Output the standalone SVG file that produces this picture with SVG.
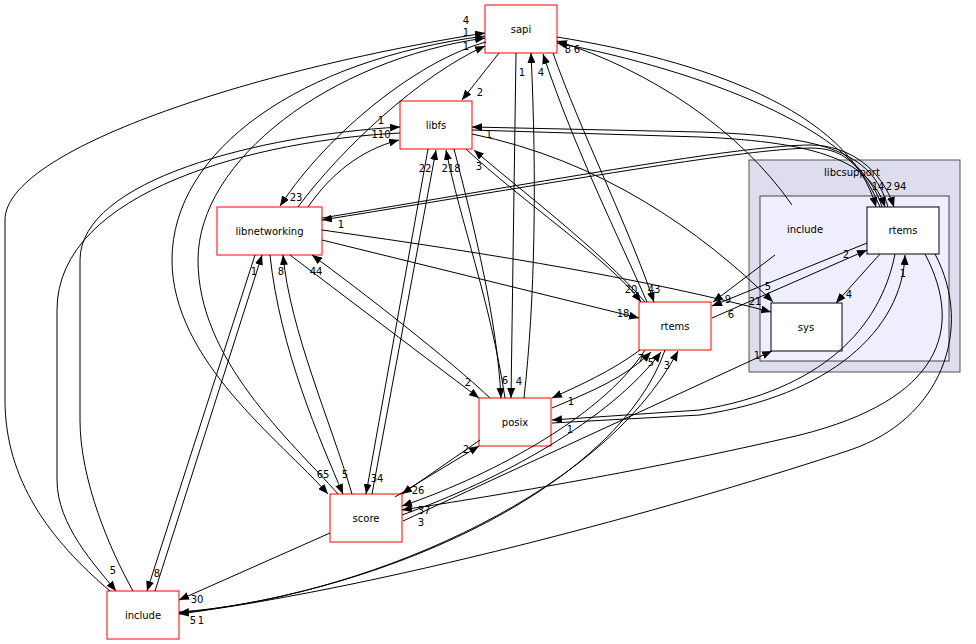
<svg xmlns="http://www.w3.org/2000/svg" width="976" height="644" viewBox="0 0 976 644">
<style>
.e{fill:none;stroke:#000;stroke-width:1;marker-end:url(#a)}
.l{font-family:"DejaVu Sans","Liberation Sans",sans-serif;font-size:10px;fill:#000;text-anchor:middle}
.n{fill:#fff;stroke:#ff0000;stroke-width:1}
.w{fill:#fff;stroke:#000;stroke-width:1}
.t{font-family:"DejaVu Sans","Liberation Sans",sans-serif;font-size:10px;fill:#000;text-anchor:middle}
</style>
<defs>
<marker id="a" markerWidth="10" markerHeight="8" refX="10" refY="4" orient="auto" markerUnits="userSpaceOnUse"><path d="M0,0 L10,4 L0,8 z" fill="#000"/></marker>
</defs>
<rect width="976" height="644" fill="#fff"/>
<g id="cluster_libcsupport">
<rect x="749" y="160" width="211" height="212" fill="#ddddee" stroke="#555"/>
<text class="t" x="852" y="176">libcsupport</text>
</g>
<g id="cluster_include">
<rect x="760" y="196" width="189" height="165" fill="#eeeeff" stroke="#444"/>
<text class="t" x="805" y="233">include</text>
</g>
<g id="node_sapi"><rect class="n" x="485" y="5" width="72" height="48"/><text class="t" x="521" y="33">sapi</text></g>
<g id="node_libfs"><rect class="n" x="400" y="101" width="72" height="48"/><text class="t" x="436" y="129">libfs</text></g>
<g id="node_libnetworking"><rect class="n" x="217" y="207" width="105" height="48"/><text class="t" x="269.5" y="235">libnetworking</text></g>
<g id="node_rtems"><rect class="n" x="639" y="302" width="72" height="48"/><text class="t" x="675" y="330">rtems</text></g>
<g id="node_posix"><rect class="n" x="479" y="398" width="72" height="48"/><text class="t" x="515" y="426">posix</text></g>
<g id="node_score"><rect class="n" x="330" y="494" width="72" height="48"/><text class="t" x="366" y="522">score</text></g>
<g id="node_include"><rect class="n" x="107" y="591" width="72" height="48"/><text class="t" x="143" y="619">include</text></g>
<g id="node_lc_rtems"><rect class="w" x="867" y="207" width="72" height="47"/><text class="t" x="903" y="234">rtems</text></g>
<g id="node_sys"><rect class="w" x="771" y="303" width="71" height="48"/><text class="t" x="806" y="331">sys</text></g>
<g id="edges">
<path class="e" d="M499,53 L462,100"/><text class="l" x="480" y="96">2</text>
<path class="e" d="M486,42 C420,60 330,130 280,206"/><text class="l" x="296" y="201">23</text>
<path class="e" d="M298,207 C340,150 420,75 485,46"/><text class="l" x="466" y="50">1</text>
<path class="e" d="M308,207 C330,175 360,150 399,140"/><text class="l" x="381" y="138">110</text>
<path class="e" d="M133,591 C110,550 80,480 80,420 L80,260 C80,180 260,135 400,127"/><text class="l" x="381" y="124">1</text>
<path class="e" d="M400,133 C260,140 57,190 57,310 L57,480 C57,525 95,565 116,591"/><text class="l" x="113" y="574">5</text>
<path class="e" d="M110,591 C50,540 5,480 5,400 L5,220 C5,150 250,70 485,33"/><text class="l" x="466" y="24">4</text>
<path class="e" d="M485,36 C300,60 172,150 172,260 C172,360 280,440 328,494"/><text class="l" x="323" y="478">65</text>
<path class="e" d="M338,494 C290,440 198,360 198,260 C198,160 330,60 485,38"/><text class="l" x="466" y="36">1</text>
<path class="e" d="M516,53 L511,398"/><text class="l" x="519" y="385">4</text>
<path class="e" d="M524,398 C535,300 537,180 531,53"/><text class="l" x="522" y="76">1</text>
<path class="e" d="M647,302 C620,240 575,150 543,54"/><text class="l" x="541" y="76">4</text>
<path class="e" d="M553,53 C580,130 630,230 654,302"/><text class="l" x="654" y="293">43</text>
<path class="e" d="M557,37 C700,60 850,110 876,207"/>
<path class="e" d="M882,207 C860,130 700,70 557,43"/><text class="l" x="577" y="53">6</text>
<path class="e" d="M792,205 C740,130 650,70 557,41"/><text class="l" x="568" y="53">8</text>
<path class="e" d="M472,130 L700,137 C820,142 870,162 885,207"/>
<path class="e" d="M888,207 C872,150 820,136 700,132 L472,127"/><text class="l" x="489" y="138">1</text>
<path class="e" d="M880,207 C860,160 840,148 810,148 C740,150 600,175 322,220"/><text class="l" x="341" y="228">1</text>
<path class="e" d="M322,218 C600,172 740,146 810,145 C850,145 882,170 894,207"/>
<text class="l" x="878" y="190">14</text><text class="l" x="889" y="190">2</text><text class="l" x="900" y="190">94</text>
<path class="e" d="M472,134 C600,160 700,230 773,302"/><text class="l" x="768" y="290">5</text>
<path class="e" d="M372,494 L436,150"/><text class="l" x="425" y="172">22</text>
<path class="e" d="M428,149 L366,494"/><text class="l" x="377" y="482">34</text>
<path class="e" d="M505,398 C490,300 460,220 446,150"/><text class="l" x="451" y="172">218</text>
<path class="e" d="M454,149 C475,230 497,320 501,398"/><text class="l" x="505" y="384">6</text>
<path class="e" d="M645,302 C600,250 520,190 474,150"/><text class="l" x="479" y="170">3</text>
<path class="e" d="M466,149 C520,200 610,260 641,302"/><text class="l" x="631" y="293">20</text>
<path class="e" d="M255,255 L147,591"/><text class="l" x="157" y="577">8</text>
<path class="e" d="M155,591 L262,255"/><text class="l" x="254" y="275">1</text>
<path class="e" d="M270,255 C280,350 320,440 343,494"/><text class="l" x="345" y="478">5</text>
<path class="e" d="M352,494 C330,420 290,330 283,255"/><text class="l" x="281" y="275">8</text>
<path class="e" d="M290,255 L479,398"/><text class="l" x="468" y="386">2</text>
<path class="e" d="M490,398 C450,360 360,290 312,255"/><text class="l" x="316" y="275">44</text>
<path class="e" d="M322,240 L639,318"/><text class="l" x="623" y="317">18</text>
<path class="e" d="M322,230 C500,255 650,280 771,312"/><text class="l" x="755" y="305">21</text>
<path class="e" d="M640,350 C610,372 580,385 552,398"/><text class="l" x="571" y="405">1</text>
<path class="e" d="M552,408 C590,392 625,378 651,352"/><text class="l" x="641" y="362">7</text>
<path class="e" d="M895,254 C880,330 820,390 700,410 L552,420"/><text class="l" x="570" y="433">1</text>
<path class="e" d="M552,423 L700,415 C830,396 902,330 905,255"/><text class="l" x="903" y="277">1</text>
<path class="e" d="M480,440 L402,494"/><text class="l" x="418" y="494">26</text>
<path class="e" d="M395,497 L479,446"/><text class="l" x="466" y="453">2</text>
<path class="e" d="M645,350 C600,420 480,480 402,506"/><text class="l" x="424" y="514">37</text>
<path class="e" d="M402,515 C500,480 610,420 661,352"/><text class="l" x="651" y="366">5</text>
<path class="e" d="M925,254 C965,330 940,400 800,435 C650,470 500,495 402,510"/><text class="l" x="421" y="526">3</text>
<path class="e" d="M330,533 L179,600"/><text class="l" x="197" y="603">30</text>
<path class="e" d="M179,612 C350,600 600,500 678,351"/><text class="l" x="667" y="369">3</text>
<path class="e" d="M665,350 C620,480 400,590 179,613"/><text class="l" x="193" y="624">5</text>
<path class="e" d="M935,254 C975,330 940,420 850,450 C700,500 400,585 179,614"/><text class="l" x="201" y="624">1</text>
<path class="e" d="M403,521 L772,351"/><text class="l" x="757" y="359">1</text>
<path class="e" d="M880,254 L836,303"/><text class="l" x="849" y="298">4</text>
<path class="e" d="M712,318 L867,250"/><text class="l" x="846" y="258">2</text>
<path class="e" d="M867,243 L712,306"/><text class="l" x="731" y="318">6</text>
<path class="e" d="M775,255 L713,302"/><text class="l" x="728" y="303">9</text>
</g>
</svg>
